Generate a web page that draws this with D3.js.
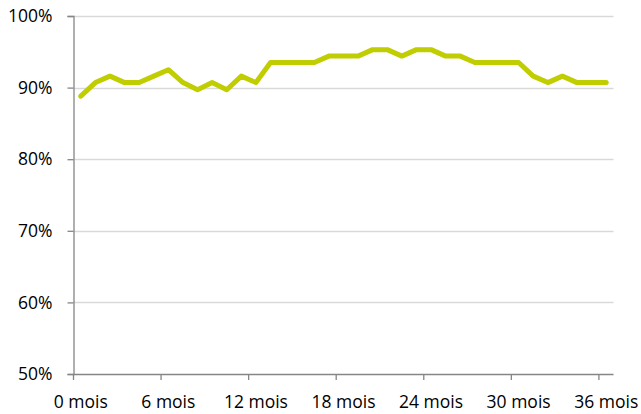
<!DOCTYPE html>
<html>
<head>
<meta charset="utf-8">
<script src="https://cdnjs.cloudflare.com/ajax/libs/d3/7.8.5/d3.min.js"></script>
<style>
  body { margin: 0; background: #fff; }
  svg { display: block; }
  text { font-family: "Open Sans", sans-serif; font-size: 17.5px; fill: #000; }
</style>
</head>
<body>
<div id="chart"></div>
<script>
// months 0..36
var months = d3.range(0, 37);
// share (%), one per month
var values = [88.8, 90.7, 91.6, 90.7, 90.7, 91.6, 92.5, 90.7, 89.7, 90.7,
              89.7, 91.6, 90.7, 93.5, 93.5, 93.5, 93.5, 94.4, 94.4, 94.4,
              95.3, 95.3, 94.4, 95.3, 95.3, 94.4, 94.4, 93.5, 93.5, 93.5,
              93.5, 91.6, 90.7, 91.6, 90.7, 90.7, 90.7];
var yTicks = [50, 60, 70, 80, 90, 100];
var xLabelMonths = [0, 6, 12, 18, 24, 30, 36];

var W = 641, H = 414;
// plot area (note: "top" is reserved on window, so use a margin object)
var plot = {left: 73.5, right: 613.5, top: 16, bottom: 374};

var svg = d3.select("#chart").append("svg")
    .attr("width", W)
    .attr("height", H);

var x = d3.scaleBand().domain(months).range([plot.left, plot.right]).padding(0);
var y = d3.scaleLinear().domain([50, 100]).range([plot.bottom, plot.top]);

// gridlines
svg.append("g").selectAll("line")
    .data(yTicks.slice(1))
    .enter().append("line")
    .attr("x1", plot.left).attr("x2", plot.right)
    .attr("y1", function(d){ return Math.round(y(d)) + 0.5; })
    .attr("y2", function(d){ return Math.round(y(d)) + 0.5; })
    .attr("stroke", "#d9d9d9")
    .attr("stroke-width", 1.3);

// y axis
var yAxis = d3.axisLeft(y)
    .tickValues(yTicks)
    .tickFormat(function(d){ return d + "%"; })
    .tickSize(6)
    .tickPadding(15);
var gy = svg.append("g")
    .attr("transform", "translate(" + plot.left + ",0)")
    .call(yAxis);
gy.select(".domain").attr("stroke", "#868686").attr("stroke-width", 1.3);
gy.selectAll(".tick line").attr("stroke", "#868686").attr("stroke-width", 1.3);
gy.selectAll("text").style("font-family", "'Open Sans', sans-serif").style("font-size", "17.5px").attr("fill", "#000");

// x axis line
svg.append("line")
    .attr("x1", plot.left).attr("x2", plot.right)
    .attr("y1", plot.bottom + 0.5).attr("y2", plot.bottom + 0.5)
    .attr("stroke", "#868686")
    .attr("stroke-width", 1.3);

// x ticks at category boundaries every 6 months
svg.append("g").selectAll("line")
    .data(xLabelMonths)
    .enter().append("line")
    .attr("x1", function(d){ return x(d); })
    .attr("x2", function(d){ return x(d); })
    .attr("y1", plot.bottom)
    .attr("y2", plot.bottom + 6)
    .attr("stroke", "#868686")
    .attr("stroke-width", 1.3);

// x labels centred on their category
svg.append("g").selectAll("text")
    .data(xLabelMonths)
    .enter().append("text")
    .attr("x", function(d){ return x(d) + x.bandwidth() / 2; })
    .attr("y", 408)
    .attr("text-anchor", "middle")
    .text(function(d){ return d + " mois"; });

// the line
var line = d3.line()
    .x(function(d, i){ return x(months[i]) + x.bandwidth() / 2; })
    .y(function(d){ return y(d); });

svg.append("path")
    .datum(values)
    .attr("d", line)
    .attr("fill", "none")
    .attr("stroke", "#c0cd00")
    .attr("stroke-width", 5)
    .attr("stroke-linejoin", "round")
    .attr("stroke-linecap", "round");
</script>
</body>
</html>
